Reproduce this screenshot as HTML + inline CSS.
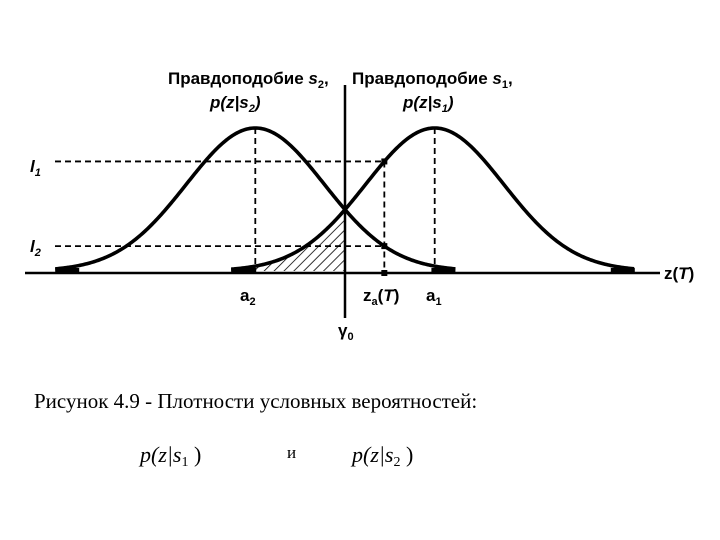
<!DOCTYPE html>
<html><head><meta charset="utf-8"><style>
html,body{margin:0;padding:0;background:#fff;width:720px;height:540px;overflow:hidden}
svg{display:block}
.sans{font-family:"Liberation Sans",sans-serif}
.serif{font-family:"Liberation Serif",serif}
</style></head><body>
<svg id="chart" width="720" height="540" viewBox="0 0 720 540">
<defs>
<pattern id="hatch" patternUnits="userSpaceOnUse" width="7" height="7" patternTransform="rotate(45)">
<line x1="0" y1="0" x2="0" y2="7" stroke="#000" stroke-width="1.6"/>
</pattern>
</defs>
<g id="g"></g>
</svg>
<script>
const means = [-1.3, 1.3];          // s2, s1 means (in units)
const sigma = 1.0;
const peak = 1.0;
const threshold = 0;                // gamma0
const zT = 0.57;                    // z_a(T)
const levelNames = ["l1","l2"];
const leftExtent = [-4.2, 1.6];     // s2 curve range
const rightExtent = [-1.65, 4.2];   // s1 curve range

const X0 = 345, XS = 69, Y0 = 271, YS = 143;
const sx = v => X0 + v*XS;
const sy = v => Y0 - v*YS;
const pdf = (z,m) => peak*Math.exp(-(z-m)*(z-m)/(2*sigma*sigma));
const NS = "http://www.w3.org/2000/svg";
const g = document.getElementById('g');
function mk(tag, attrs){const e=document.createElementNS(NS,tag);for(const k in attrs)e.setAttribute(k,attrs[k]);g.appendChild(e);return e;}

{
  let d=`M${sx(rightExtent[0])},${sy(0)}`;
  for(let z=rightExtent[0];z<=threshold;z+=0.02)d+=` L${sx(z)},${sy(pdf(z,means[1]))}`;
  d+=` L${sx(threshold)},${sy(pdf(threshold,means[1]))} L${sx(threshold)},${sy(0)} Z`;
  const p=mk('path',{d,fill:'url(#hatch)',stroke:'none'});
  
  
}
const ax=mk('line',{x1:25,y1:Y0+2,x2:660,y2:Y0+2,stroke:'#000','stroke-width':2.5});


const vl=mk('line',{x1:sx(threshold),y1:85,x2:sx(threshold),y2:318,stroke:'#000','stroke-width':2.5});



const l1=pdf(zT,means[1]), l2=pdf(zT,means[0]);
[l1,l2].forEach((lv,i)=>{
  const dl=mk('line',{x1:55,y1:sy(lv),x2:sx(zT),y2:sy(lv),stroke:'#000','stroke-width':1.8,'stroke-dasharray':'6,4'});
  
  
  const pt=mk('rect',{x:sx(zT)-3,y:sy(lv)-3,width:6,height:6,fill:'#000'});
  
  
});
[means[0],means[1],zT].forEach((m,i)=>{
  const top = i<2 ? sy(pdf(m,means[i])) : sy(l1);
  const v=mk('line',{x1:sx(m),y1:top,x2:sx(m),y2:Y0+2,stroke:'#000','stroke-width':1.8,'stroke-dasharray':'6,4'});
  
  
});
const zm=mk('rect',{x:sx(zT)-3,y:Y0-1,width:6,height:6,fill:'#000'});



[[means[0],leftExtent],[means[1],rightExtent]].forEach(([m,ext],i)=>{
  let d='';
  for(let z=ext[0];z<=ext[1]+1e-9;z+=0.02)d+=(d?' L':'M')+sx(z)+','+Math.min(sy(pdf(z,m)),Y0-2);
  const c=mk('path',{d,fill:'none',stroke:'#000','stroke-width':3.6});
  
  
  [ext[0],ext[1]].forEach((e,j)=>{
    const x=sx(e); const w=24;
    const t=mk('rect',{x:j?x-w:x,y:Y0-3,width:w,height:5,fill:'#000'});
    
    
  });
});
</script>
<svg width="720" height="540" style="position:absolute;left:0;top:0">
<g class="sans" font-size="17" font-weight="bold">
<text x="168" y="84">Правдоподобие <tspan font-style="italic">s</tspan><tspan font-size="11" dy="4">2</tspan><tspan dy="-4">,</tspan></text>
<text x="210" y="108" font-style="italic">p(z|s<tspan font-size="11" dy="4">2</tspan><tspan dy="-4">)</tspan></text>
<text x="352" y="84">Правдоподобие <tspan font-style="italic">s</tspan><tspan font-size="11" dy="4">1</tspan><tspan dy="-4">,</tspan></text>
<text x="403" y="108" font-style="italic">p(z|s<tspan font-size="11" dy="4">1</tspan><tspan dy="-4">)</tspan></text>
<text x="30" y="172" font-style="italic">l<tspan font-size="11" dy="4">1</tspan></text>
<text x="30" y="252" font-style="italic">l<tspan font-size="11" dy="4">2</tspan></text>
<text x="240" y="301">a<tspan font-size="11" dy="4">2</tspan></text>
<text x="363" y="301">z<tspan font-size="11" dy="4">a</tspan><tspan dy="-4">(</tspan><tspan font-style="italic">T</tspan>)</text>
<text x="426" y="301">a<tspan font-size="11" dy="4">1</tspan></text>
<text x="338" y="336">γ<tspan font-size="11" dy="4">0</tspan></text>
<text x="664" y="279">z(<tspan font-style="italic">T</tspan>)</text>
</g>
<g class="serif">
<text x="34" y="408" font-size="21">Рисунок 4.9 - Плотности условных вероятностей:</text>
<text x="140" y="462" font-size="22" font-style="italic">p(z|s<tspan font-size="14" dy="4" font-style="normal">1</tspan><tspan dy="-4" font-style="normal"> )</tspan></text>
<text x="287" y="458" font-size="17">и</text>
<text x="352" y="462" font-size="22" font-style="italic">p(z|s<tspan font-size="14" dy="4" font-style="normal">2</tspan><tspan dy="-4" font-style="normal"> )</tspan></text>
</g>
</svg>
</body></html>
